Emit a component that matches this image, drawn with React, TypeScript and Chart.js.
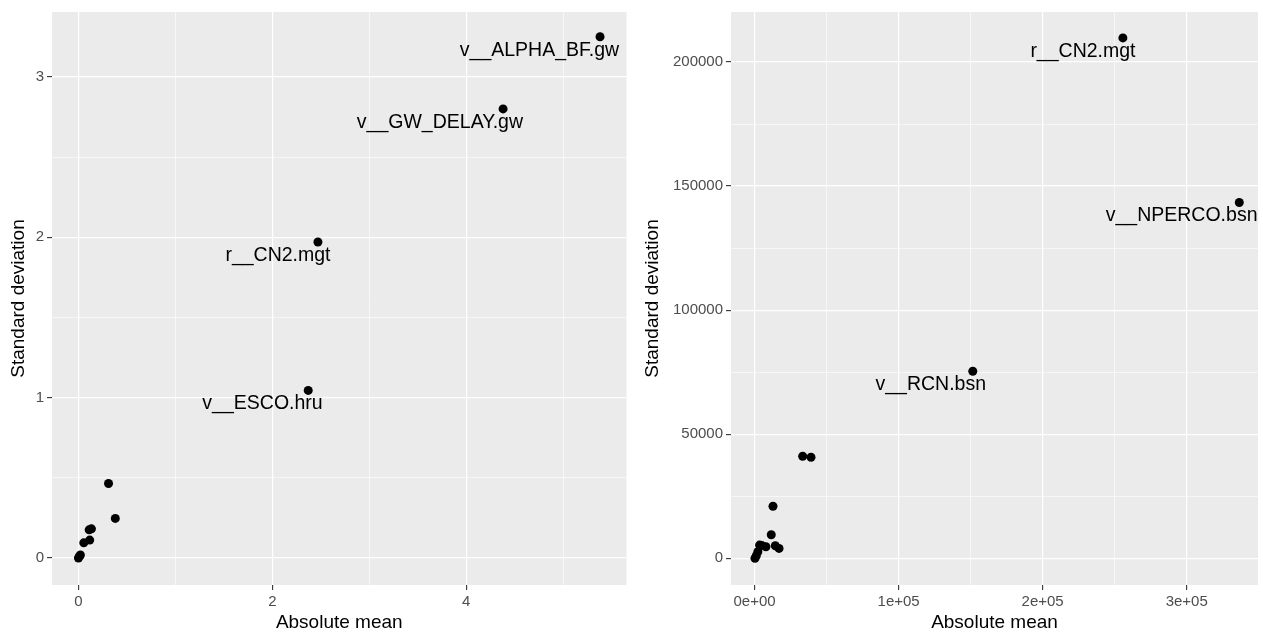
import React, { useEffect, useRef } from 'react';
import { Chart, registerables } from 'chart.js';

Chart.register(...registerables);

// ---------- Data ----------
const LEFT_X = [5.38, 4.38, 2.47, 2.37, 0.31, 0.38, 0.134, 0.11, 0.116, 0.055, 0.01, 0.0, 0.02];
const LEFT_Y = [3.25, 2.8, 1.97, 1.045, 0.465, 0.247, 0.182, 0.176, 0.112, 0.095, 0.012, 0.0, 0.019];
const LEFT_LABELS = ['v__ALPHA_BF.gw', 'v__GW_DELAY.gw', 'r__CN2.mgt', 'v__ESCO.hru', '', '', '', '', '', '', '', '', ''];

const RIGHT_X = [255700, 336500, 151500, 33400, 39200, 12800, 11600, 3500, 5000, 7900, 14400, 17000, 2300, 1200, 300];
const RIGHT_Y = [209700, 143400, 75400, 41150, 40750, 21000, 9500, 5350, 5200, 4670, 5070, 4000, 2650, 1050, 0];
const RIGHT_LABELS = ['r__CN2.mgt', 'v__NPERCO.bsn', 'v__RCN.bsn', '', '', '', '', '', '', '', '', '', '', '', ''];

const LEFT_X_MAJOR = [0, 2, 4];
const LEFT_X_MAJOR_LABELS = ['0', '2', '4'];
const LEFT_X_MINOR = [1, 3, 5];
const LEFT_Y_MAJOR = [0, 1, 2, 3];
const LEFT_Y_MAJOR_LABELS = ['0', '1', '2', '3'];
const LEFT_Y_MINOR = [0.5, 1.5, 2.5];

const RIGHT_X_MAJOR = [0, 100000, 200000, 300000];
const RIGHT_X_MAJOR_LABELS = ['0e+00', '1e+05', '2e+05', '3e+05'];
const RIGHT_X_MINOR = [50000, 150000, 250000];
const RIGHT_Y_MAJOR = [0, 50000, 100000, 150000, 200000];
const RIGHT_Y_MAJOR_LABELS = ['0', '50000', '100000', '150000', '200000'];
const RIGHT_Y_MINOR = [25000, 75000, 125000, 175000];

const X_TITLE = 'Absolute mean';
const Y_TITLE = 'Standard deviation';

const FONT = "'Liberation Sans', Arial, Helvetica, sans-serif";

type PanelProps = {
  width: number;
  xs: number[];
  ys: number[];
  labels: string[];
  xMin: number;
  xMax: number;
  yMin: number;
  yMax: number;
  xMajor: number[];
  xMajorLabels: string[];
  xMinor: number[];
  yMajor: number[];
  yMajorLabels: string[];
  yMinor: number[];
  yAxisWidth: number;
  yTitlePad: number;
  padRight: number;
};

function Panel(p: PanelProps) {
  const ref = useRef<HTMLCanvasElement>(null);
  useEffect(() => {
    if (!ref.current) return;
    const xAll = [...p.xMajor, ...p.xMinor].sort((a, b) => a - b);
    const yAll = [...p.yMajor, ...p.yMinor].sort((a, b) => a - b);
    const isMaj = (arr: number[], v: number) => arr.some((m) => Math.abs(m - v) < 1e-9);
    const lab = (arr: number[], labs: string[], v: number) => {
      const i = arr.findIndex((m) => Math.abs(m - v) < 1e-9);
      return i >= 0 ? labs[i] : '';
    };

    const bgPlugin = {
      id: 'panelBg',
      beforeDraw(chart: any) {
        const { ctx, chartArea } = chart;
        ctx.save();
        ctx.fillStyle = '#EBEBEB';
        ctx.fillRect(chartArea.left, chartArea.top, chartArea.right - chartArea.left, chartArea.bottom - chartArea.top);
        ctx.restore();
      },
    };

    const labelPlugin = {
      id: 'pointLabels',
      afterDatasetsDraw(chart: any) {
        const { ctx } = chart;
        const meta = chart.getDatasetMeta(0);
        ctx.save();
        ctx.font = `19.5px ${FONT}`;
        ctx.fillStyle = '#000';
        ctx.textBaseline = 'alphabetic';
        ctx.textAlign = 'left';
        meta.data.forEach((el: any, i: number) => {
          const t = p.labels[i];
          if (!t) return;
          const w = ctx.measureText(t).width;
          ctx.fillText(t, el.x - 0.88 * w, el.y + 19);
        });
        ctx.restore();
      },
    };

    const tickFont = { family: FONT, size: 15 };
    const titleFont = { family: FONT, size: 19 };

    const chart = new Chart(ref.current, {
      type: 'scatter',
      data: {
        datasets: [
          {
            data: p.xs.map((x, i) => ({ x, y: p.ys[i] })),
            pointRadius: 4.5,
            pointHoverRadius: 4.5,
            pointBackgroundColor: '#000',
            pointBorderWidth: 0,
            pointBorderColor: '#000',
          },
        ],
      },
      options: {
        animation: false,
        responsive: false,
        events: [],
        layout: { padding: { top: 11, right: p.padRight, left: 0, bottom: 0 } },
        plugins: { legend: { display: false }, tooltip: { enabled: false } },
        scales: {
          x: {
            type: 'linear',
            min: p.xMin,
            max: p.xMax,
            afterBuildTicks: (s: any) => {
              s.ticks = xAll.map((v) => ({ value: v }));
            },
            afterFit: (s: any) => {
              s.height = 52;
            },
            ticks: {
              autoSkip: false,
              maxRotation: 0,
              minRotation: 0,
              padding: 3,
              color: '#4D4D4D',
              font: tickFont,
              callback: (v: any) => lab(p.xMajor, p.xMajorLabels, Number(v)),
            },
            grid: {
              color: '#FFFFFF',
              lineWidth: (c: any) => (c.tick && isMaj(p.xMajor, c.tick.value) ? 1.2 : 0.6),
              drawTicks: true,
              tickLength: 5,
              tickWidth: 1.1,
              tickColor: (c: any) => (c.tick && isMaj(p.xMajor, c.tick.value) ? '#333333' : 'rgba(0,0,0,0)'),
            },
            border: { display: false },
            title: { display: true, text: X_TITLE, color: '#000', font: titleFont, padding: { top: 0, bottom: 3 } },
          },
          y: {
            type: 'linear',
            min: p.yMin,
            max: p.yMax,
            afterBuildTicks: (s: any) => {
              s.ticks = yAll.map((v) => ({ value: v }));
            },
            afterFit: (s: any) => {
              s.width = p.yAxisWidth;
            },
            ticks: {
              autoSkip: false,
              padding: 3,
              color: '#4D4D4D',
              font: tickFont,
              callback: (v: any) => lab(p.yMajor, p.yMajorLabels, Number(v)),
            },
            grid: {
              color: '#FFFFFF',
              lineWidth: (c: any) => (c.tick && isMaj(p.yMajor, c.tick.value) ? 1.2 : 0.6),
              drawTicks: true,
              tickLength: 5,
              tickWidth: 1.1,
              tickColor: (c: any) => (c.tick && isMaj(p.yMajor, c.tick.value) ? '#333333' : 'rgba(0,0,0,0)'),
            },
            border: { display: false },
            title: { display: true, text: Y_TITLE, color: '#000', font: titleFont, padding: { top: p.yTitlePad, bottom: 0 } },
          },
        },
      } as any,
      plugins: [bgPlugin, labelPlugin],
    });
    return () => chart.destroy();
  }, []);
  return <canvas ref={ref} width={p.width} height={637} style={{ display: 'block' }} />;
}

export default function App() {
  return (
    <div
      style={{
        position: 'fixed',
        left: 0,
        top: 0,
        width: 1263,
        height: 637,
        background: '#fff',
        display: 'flex',
        overflow: 'hidden',
      }}
    >
      <Panel
        width={631}
        xs={LEFT_X}
        ys={LEFT_Y}
        labels={LEFT_LABELS}
        xMin={-0.273}
        xMax={5.653}
        yMin={-0.168}
        yMax={3.404}
        xMajor={LEFT_X_MAJOR}
        xMajorLabels={LEFT_X_MAJOR_LABELS}
        xMinor={LEFT_X_MINOR}
        yMajor={LEFT_Y_MAJOR}
        yMajorLabels={LEFT_Y_MAJOR_LABELS}
        yMinor={LEFT_Y_MINOR}
        yAxisWidth={52}
        yTitlePad={7}
        padRight={3}
      />
      <Panel
        width={632}
        xs={RIGHT_X}
        ys={RIGHT_Y}
        labels={RIGHT_LABELS}
        xMin={-16350}
        xMax={349500}
        yMin={-10740}
        yMax={220150}
        xMajor={RIGHT_X_MAJOR}
        xMajorLabels={RIGHT_X_MAJOR_LABELS}
        xMinor={RIGHT_X_MINOR}
        yMajor={RIGHT_Y_MAJOR}
        yMajorLabels={RIGHT_Y_MAJOR_LABELS}
        yMinor={RIGHT_Y_MINOR}
        yAxisWidth={100}
        yTitlePad={10.6}
        padRight={5}
      />
    </div>
  );
}
